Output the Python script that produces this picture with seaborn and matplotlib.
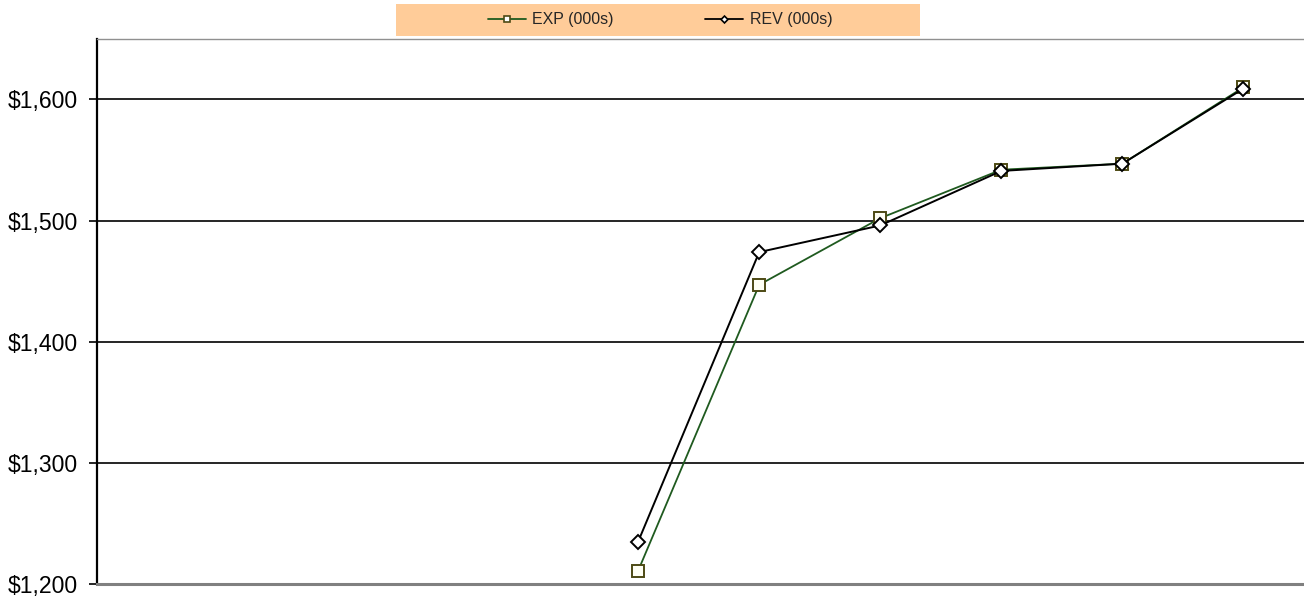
import numpy as np
import pandas as pd
import seaborn as sns
import matplotlib.pyplot as plt
from matplotlib.lines import Line2D
from matplotlib.patches import Rectangle
from matplotlib.ticker import FuncFormatter

# ----------------------------
# Data (values in $000s)
# ----------------------------
periods = list(range(10))
exp_vals = [np.nan, np.nan, np.nan, np.nan, 1211, 1447, 1502, 1542, 1547, 1610]
rev_vals = [np.nan, np.nan, np.nan, np.nan, 1235, 1474, 1496, 1541, 1547, 1609]
y_ticks = [1200, 1300, 1400, 1500, 1600]

df = pd.DataFrame({"period": periods, "EXP": exp_vals, "REV": rev_vals})

# ----------------------------
# Style
# ----------------------------
sns.set_style("white")
plt.rcParams["font.family"] = ["Liberation Sans", "DejaVu Sans"]

fig = plt.figure(figsize=(13.04, 6.03), dpi=100)
ax = fig.add_axes([0.0744, 0.0315, 0.9256, 0.904])

exp_line = "#1f5a1f"
exp_edge = "#4d4a14"

sns.lineplot(data=df, x="period", y="EXP", ax=ax, color=exp_line, linewidth=1.3,
             marker="s", markersize=9.3, markerfacecolor="#fffff4",
             markeredgecolor=exp_edge, markeredgewidth=1.4, zorder=3)
sns.lineplot(data=df, x="period", y="REV", ax=ax, color="black", linewidth=1.4,
             marker="D", markersize=7, markerfacecolor="white",
             markeredgecolor="black", markeredgewidth=1.4, zorder=4)

# ----------------------------
# Axes
# ----------------------------
ax.set_xlim(-0.47, 9.5)
ax.set_ylim(1200, 1650)
ax.set_yticks(y_ticks)
ax.yaxis.set_major_formatter(FuncFormatter(lambda v, _: f"${v:,.0f}"))
ax.set_xticks([])
ax.set_xlabel("")
ax.set_ylabel("")
ax.tick_params(axis="y", left=True, length=6, width=1.2, pad=8,
               labelsize=16.6, colors="black")

for v in y_ticks[1:]:
    ax.axhline(v, color="black", linewidth=1.2, zorder=1)

ax.spines["left"].set_color("black")
ax.spines["left"].set_linewidth(1.6)
ax.spines["bottom"].set_color("#808080")
ax.spines["bottom"].set_linewidth(2.2)
ax.spines["top"].set_color("#909090")
ax.spines["top"].set_linewidth(1.0)
ax.spines["right"].set_visible(False)

# ----------------------------
# Legend on a peach band
# ----------------------------
fig.patches.append(Rectangle((0.3037, 0.941), 0.4018, 0.052, transform=fig.transFigure,
                             facecolor="#ffcc99", edgecolor="none", zorder=0))
handles = [
    Line2D([], [], color=exp_line, linewidth=1.3, marker="s", markersize=4.5,
           markerfacecolor="white", markeredgecolor=exp_edge, markeredgewidth=1.2),
    Line2D([], [], color="black", linewidth=1.3, marker="D", markersize=3.5,
           markerfacecolor="white", markeredgecolor="black", markeredgewidth=1.2),
]
fig.legend(handles, ["EXP (000s)", "REV (000s)"], loc="center",
           bbox_to_anchor=(0.506, 0.967), ncol=2, frameon=False, fontsize=11.5,
           handlelength=2.4, handletextpad=0.4, columnspacing=5.7)

fig.savefig("out.png", dpi=100)
plt.close(fig)
